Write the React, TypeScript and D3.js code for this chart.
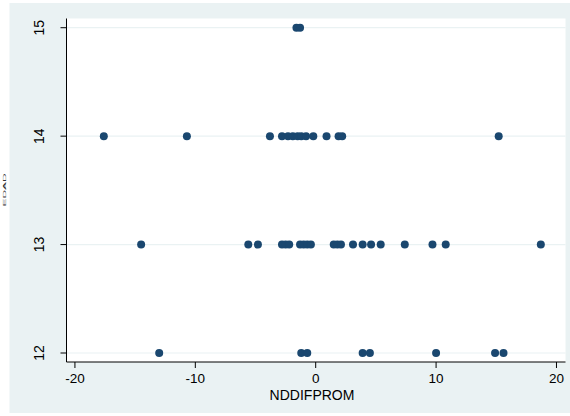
import React from 'react';
import * as d3 from 'd3';

// x values (NDDIFPROM) for each y level
const xAt15 = [-1.6, -1.3];
const xAt14 = [-17.6, -10.7, -3.8, -2.8, -2.3, -1.9, -1.5, -1.2, -0.8, -0.2, 0.9, 1.9, 2.2, 15.2];
const xAt13 = [-14.5, -5.6, -4.8, -2.8, -2.5, -2.2, -1.3, -1.0, -0.7, -0.4, 1.5, 1.8, 2.1, 3.1, 3.9, 4.6, 5.4, 7.4, 9.7, 10.8, 18.7];
const xAt12 = [-13.0, -1.2, -0.7, 3.9, 4.5, 10.0, 14.9, 15.6];
const yLevels = [15, 14, 13, 12];

const xTicks = [-20, -10, 0, 10, 20];
const yTicks = [12, 13, 14, 15];
const xTitle = 'NDDIFPROM';
const yTitle = 'EDAD';

const W = 570;
const H = 416;
const plot = { left: 66.5, right: 565.5, top: 18.5, bottom: 362 };
const bg = '#eaf2f3';
const dotColor = '#1a476f';
const font = '"Liberation Sans", Arial, sans-serif';

export default function App() {
  const x = d3.scaleLinear().domain([-20.7, 20.75]).range([plot.left, plot.right]);
  const y = d3.scaleLinear().domain([11.917, 15.085]).range([plot.bottom, plot.top]);

  const rows = [xAt15, xAt14, xAt13, xAt12];
  const points = rows.flatMap((xs, i) => xs.map(v => ({ x: v, y: yLevels[i] })));

  return (
    <svg width={W} height={H} style={{ position: 'absolute', left: 0, top: 0 }}>
      <rect x={0} y={0} width={W} height={H} fill="#ffffff" />
      <rect x={9.5} y={3} width={W - 9.5} height={410} fill={bg} />
      <rect x={plot.left} y={plot.top} width={plot.right - plot.left} height={plot.bottom - plot.top} fill="#ffffff" />

      {/* gridlines */}
      {yTicks.map(t => (
        <line key={'g' + t} x1={plot.left} x2={plot.right} y1={y(t)} y2={y(t)} stroke={bg} strokeWidth={1.2} />
      ))}

      {/* points */}
      {points.map((p, i) => (
        <circle key={i} cx={x(p.x)} cy={y(p.y)} r={4} fill={dotColor} />
      ))}

      {/* axes */}
      <line x1={plot.left} x2={plot.left} y1={plot.top} y2={plot.bottom} stroke="#000" strokeWidth={1} />
      <line x1={plot.left} x2={plot.right} y1={plot.bottom} y2={plot.bottom} stroke="#000" strokeWidth={1} />

      {yTicks.map(t => (
        <g key={'y' + t}>
          <line x1={plot.left - 6} x2={plot.left} y1={y(t)} y2={y(t)} stroke="#000" strokeWidth={1} />
          <text
            transform={`translate(44,${y(t)}) rotate(-90)`}
            textAnchor="middle"
            fontFamily={font}
            fontSize={14}
            fill="#000"
          >
            {t}
          </text>
        </g>
      ))}

      {xTicks.map(t => (
        <g key={'x' + t}>
          <line x1={x(t)} x2={x(t)} y1={plot.bottom} y2={plot.bottom + 6} stroke="#000" strokeWidth={1} />
          <text x={x(t)} y={383} textAnchor="middle" fontFamily={font} fontSize={13.5} fill="#000">
            {t}
          </text>
        </g>
      ))}

      <text x={312} y={399.5} textAnchor="middle" fontFamily={font} fontSize={14} fill="#000">
        {xTitle}
      </text>

      <text
        transform="translate(6,190) rotate(-90)"
        textAnchor="middle"
        fontFamily={font}
        fontSize={4}
        textLength={33}
        lengthAdjust="spacingAndGlyphs"
        fill="#333"
      >
        {yTitle}
      </text>
    </svg>
  );
}
